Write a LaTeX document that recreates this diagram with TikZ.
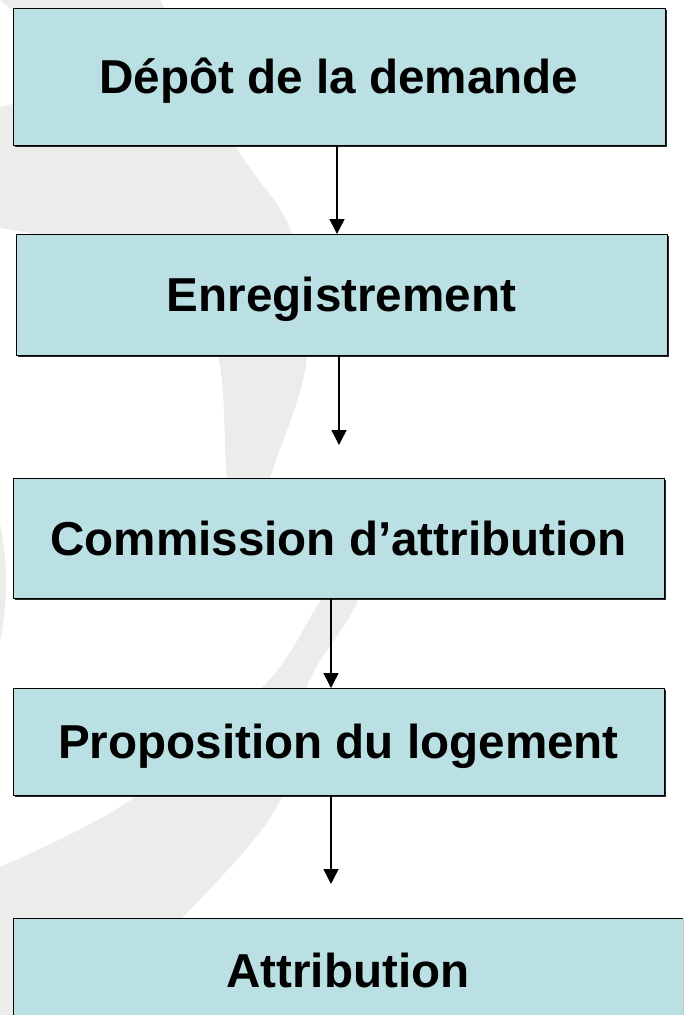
\documentclass[tikz,border=0pt]{standalone}
\usepackage{fontspec}
\setmainfont{Liberation Sans}
\usetikzlibrary{arrows.meta,shadows}
\definecolor{boxfill}{RGB}{187,224,227}
\definecolor{wm}{RGB}{236,236,236}
\begin{document}
\begin{tikzpicture}[x=1pt,y=-1pt,
  stepbox/.style={draw=black, line width=1pt, fill=boxfill,
    drop shadow={shadow xshift=1.5pt, shadow yshift=-1.5pt, fill=black!85, opacity=1},
    inner sep=0pt, outer sep=0pt, text height=34.2pt, text depth=0pt,
    font=\fontsize{47.6}{52}\selectfont\bfseries},
  arr/.style={line width=1.5pt, -{Triangle[width=15pt,length=15pt]}}]
\useasboundingbox (0,0) rectangle (683,1015);
\clip (0,0) rectangle (683,1015);
\fill[white] (0,0) rectangle (683,1015);
% watermark
\fill[wm] (0,0) -- (160,0)
  -- plot[smooth, tension=0.6] coordinates {(160,0) (235,145) (292,234) (307,356) (270,478) (240,575)}
  -- plot[smooth, tension=0.6] coordinates {(240,575) (227,478) (218,356) (180,295) (90,248) (0,228)}
  -- (0,107) -- (30,100) -- (30,25) -- cycle;
\fill[wm] (0,867)
  -- plot[smooth, tension=0.6] coordinates {(0,867) (131,800) (262,688) (321,600) (380,510)}
  -- plot[smooth, tension=0.6] coordinates {(380,510) (358,600) (306,688) (283,795) (209,890) (80,1015)}
  -- (0,1015) -- cycle;
\fill[wm] (0,524) .. controls (8,560) and (8,605) .. (0,641) -- cycle;
% boxes
\node[stepbox, minimum width=652pt, minimum height=137pt] (b1) at (339,76.5) {Dépôt de la demande};
\node[stepbox, minimum width=651pt, minimum height=121pt] (b2) at (341.5,294.5) {Enregistrement};
\node[stepbox, minimum width=651pt, minimum height=120pt] (b3) at (338.5,538) {Commission d’attribution};
\node[stepbox, minimum width=651pt, minimum height=107pt] (b4) at (338.5,741.5) {Proposition du logement};
\node[stepbox, minimum width=670pt, minimum height=104pt] (b5) at (348,970) {Attribution};
% arrows
\coordinate (x1) at (337,0);
\coordinate (e2) at (339,445);
\coordinate (x3) at (331,0);
\coordinate (e4) at (331,884);
\draw[arr] (b1.south -| x1) -- (b2.north -| x1);
\draw[arr] (b2.south -| e2) -- (e2);
\draw[arr] (b3.south -| x3) -- (b4.north -| x3);
\draw[arr] (b4.south -| e4) -- (e4);
\end{tikzpicture}
\end{document}
